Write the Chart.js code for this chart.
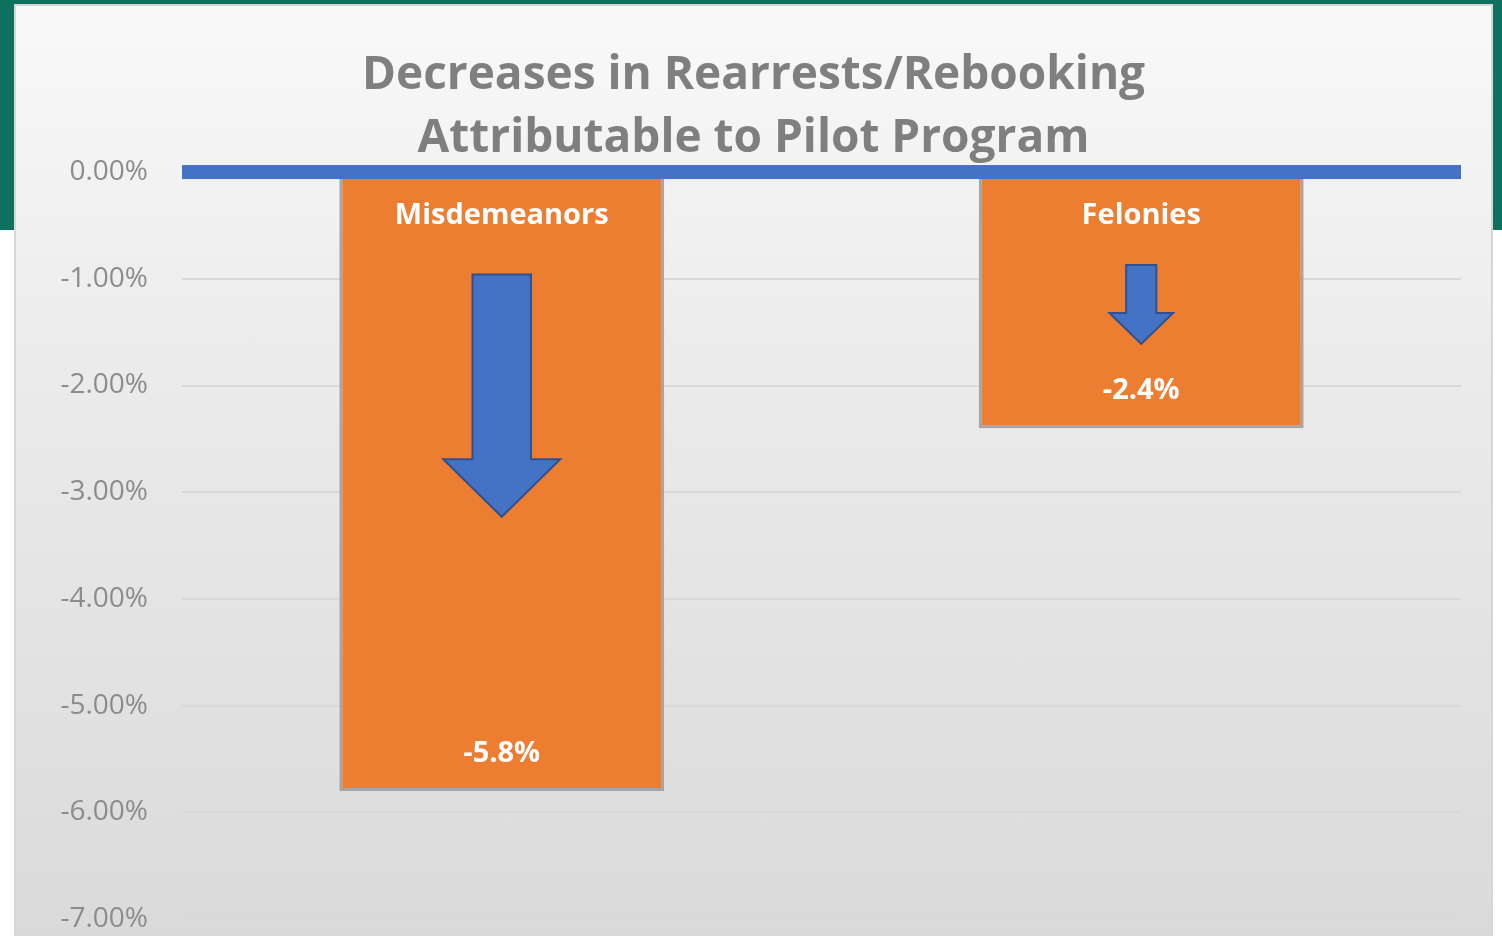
<!DOCTYPE html>
<html>
<head>
<meta charset="utf-8">
<script src="https://cdn.jsdelivr.net/npm/chart.js@4/dist/chart.umd.min.js"></script>
<style>
    body { margin: 0; background: #ffffff; width: 1502px; height: 936px; overflow: hidden; position: relative; }
    #band { position: absolute; left: 0; top: 0; width: 1502px; height: 230px; background: #0e705f; }
    #panel {
        position: absolute; left: 14px; top: 4px; width: 1475px; height: 960px;
        border: 2px solid #d6d6d6; overflow: hidden;
        background: linear-gradient(to bottom, #f9f9f9 0%, #ececec 35%, #d9d9d9 100%);
    }
    #grafico { position: absolute; left: 0; top: 0; }
</style>
</head>
<body>
<div id="band"></div>
<div id="panel">
    <canvas id="grafico" width="1475" height="964"></canvas>
</div>
<script>
const categorias = ["Misdemeanors", "Felonies"];
const valores = [-5.8, -2.4];
const yTicks = [0, -1, -2, -3, -4, -5, -6, -7];

// arrow shapes inside each bar, in axis units (top of shaft, start of head, tip)
// and widths as a share of the bar width
const setas = [
    { topo: -0.96, pescoco: -2.69, ponta: -3.23, haste: 0.18, cabeca: 0.36 },
    { topo: -0.87, pescoco: -1.32, ponta: -1.61, haste: 0.093, cabeca: 0.196 }
];

const azul = "#4472c4";

const desenhos = {
    id: "desenhos",
    afterDatasetsDraw(chart) {
        const ctx = chart.ctx;
        const y = chart.scales.y;
        const area = chart.chartArea;
        const meta = chart.getDatasetMeta(0);

        meta.data.forEach(function (barra, i) {
            const s = setas[i];
            const cx = barra.x;
            const w = barra.width;
            const hs = w * s.haste / 2;
            const hc = w * s.cabeca / 2;
            const yTopo = y.getPixelForValue(s.topo);
            const yPesc = y.getPixelForValue(s.pescoco);
            const yPonta = y.getPixelForValue(s.ponta);

            ctx.save();
            ctx.beginPath();
            ctx.moveTo(cx - hs, yTopo);
            ctx.lineTo(cx + hs, yTopo);
            ctx.lineTo(cx + hs, yPesc);
            ctx.lineTo(cx + hc, yPesc);
            ctx.lineTo(cx, yPonta);
            ctx.lineTo(cx - hc, yPesc);
            ctx.lineTo(cx - hs, yPesc);
            ctx.closePath();
            ctx.fillStyle = azul;
            ctx.fill();
            ctx.lineWidth = 2;
            ctx.strokeStyle = "#2f528f";
            ctx.stroke();

            ctx.fillStyle = "#ffffff";
            ctx.font = "bold 29px 'Open Sans'";
            ctx.textAlign = "center";
            ctx.textBaseline = "middle";
            ctx.fillText(categorias[i], cx, y.getPixelForValue(0) + 44);
            ctx.fillText(valores[i].toFixed(1) + "%", cx, barra.y - 37);
            ctx.restore();
        });

        // thick zero line on top of the bars
        const y0 = y.getPixelForValue(0);
        ctx.save();
        ctx.fillStyle = azul;
        ctx.fillRect(area.left, y0 - 7, area.right - area.left, 14);
        ctx.restore();
    }
};

const ctx = document.getElementById("grafico").getContext("2d");
new Chart(ctx, {
    type: "bar",
    data: {
        labels: categorias,
        datasets: [{
            data: valores,
            backgroundColor: "#ed7d31",
            borderColor: "#a5a5a5",
            borderWidth: 3,
            borderSkipped: false,
            categoryPercentage: 1,
            barPercentage: 0.508
        }]
    },
    options: {
        responsive: false,
        animation: false,
        layout: { padding: { left: 30, right: 30, top: 0, bottom: 19 } },
        plugins: {
            legend: { display: false },
            tooltip: { enabled: false },
            title: {
                display: true,
                text: ["Decreases in Rearrests/Rebooking", "Attributable to Pilot Program"],
                color: "#7f7f7f",
                font: { family: "'Open Sans'", size: 46, weight: "bold", lineHeight: 1.37 },
                padding: { top: 38.5, bottom: 1.5 }
            }
        },
        scales: {
            x: { display: false },
            y: {
                min: -7,
                max: 0,
                afterBuildTicks(scale) {
                    scale.ticks = yTicks.map(v => ({ value: v }));
                },
                afterFit(scale) { scale.width = 136; },
                border: { display: false },
                grid: { color: "#d9d9d9", lineWidth: 2, drawTicks: false },
                ticks: {
                    padding: 34,
                    color: "#8c8c8c",
                    font: { family: "'Open Sans'", size: 28 },
                    callback: v => v.toFixed(2) + "%"
                }
            }
        }
    },
    plugins: [desenhos]
});
</script>
</body>
</html>
